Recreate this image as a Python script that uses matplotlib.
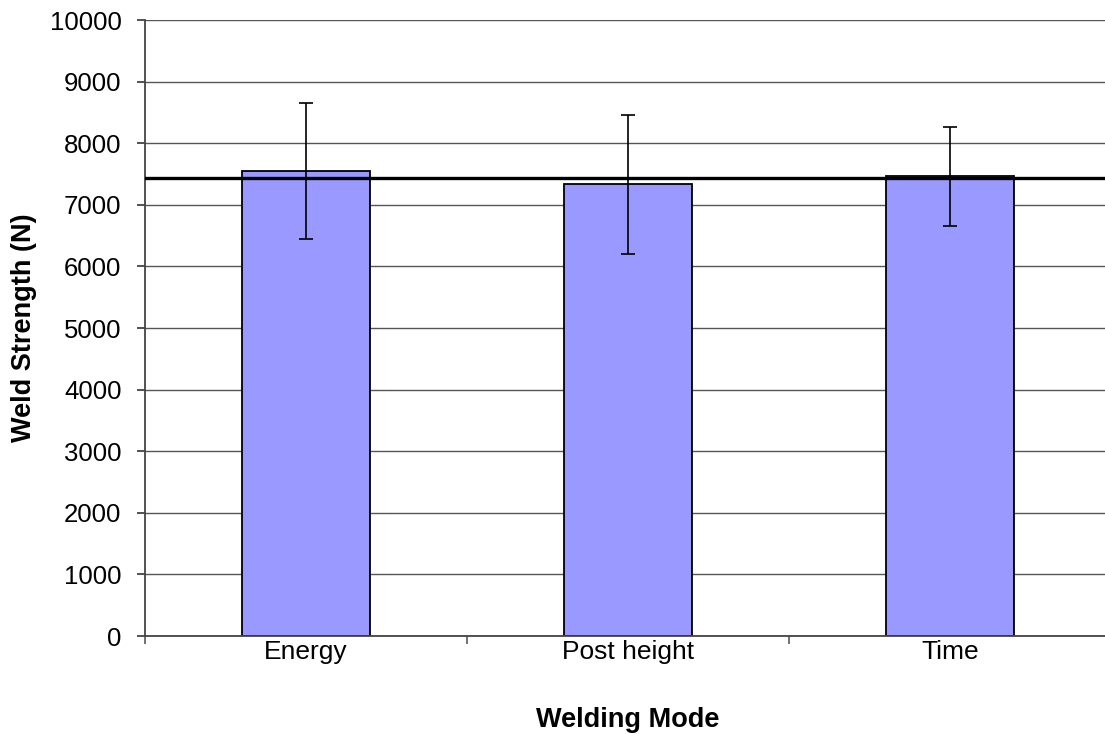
import matplotlib
matplotlib.use("Agg")
import matplotlib.pyplot as plt
import numpy as np

categories = ["Energy", "Post height", "Time"]
strength = [7550, 7330, 7460]
errors = [1110, 1125, 800]
reference_line = 7430
y_ticks = list(range(0, 10001, 1000))

plt.rcParams['font.family'] = ['Liberation Sans', 'DejaVu Sans']

fig = plt.figure(figsize=(11.05, 7.34), dpi=100)
W, H = 1105, 734
ax = fig.add_axes([145 / W, (H - 636) / H, (1111 - 145) / W, (636 - 20) / H])

x = np.arange(len(categories))
ax.set_xlim(-0.5, len(categories) - 0.5)
ax.set_ylim(0, 10000)

ax.set_yticks(y_ticks)
ax.yaxis.grid(True, color='#555555', linewidth=1.0)
ax.set_axisbelow(True)

ax.bar(x, strength, width=0.4, color='#9999FF', edgecolor='black', linewidth=1.3, zorder=2)
ax.errorbar(x, strength, yerr=errors, fmt='none', ecolor='black', elinewidth=1.2,
            capsize=5, capthick=1.2, zorder=3)
ax.axhline(reference_line, color='black', linewidth=2.4, zorder=4)

for s in ['top', 'right']:
    ax.spines[s].set_visible(False)
for s in ['left', 'bottom']:
    ax.spines[s].set_color('#444444')
    ax.spines[s].set_linewidth(1.3)

ax.set_xticks(x)
ax.set_xticklabels(categories)
ax.set_xticks(np.arange(-0.5, len(categories), 1.0), minor=True)
ax.tick_params(axis='x', which='major', length=0, pad=3, labelsize=19)
ax.tick_params(axis='x', which='minor', length=6, width=1.3, color='#666666')
ax.tick_params(axis='y', which='major', length=6, width=1.3, color='#444444', pad=11, labelsize=18.5)

ax.set_xlabel("Welding Mode", fontsize=19.5, fontweight='bold')
ax.set_ylabel("Weld Strength (N)", fontsize=19.5, fontweight='bold')
ax.xaxis.label.set_va('center')
ax.yaxis.label.set_va('center')
ax.xaxis.set_label_coords(0.5, (636 - 720) / 616)
ax.yaxis.set_label_coords((24 - 145) / 966, 0.5)

fig.savefig("out.png", dpi=100)
